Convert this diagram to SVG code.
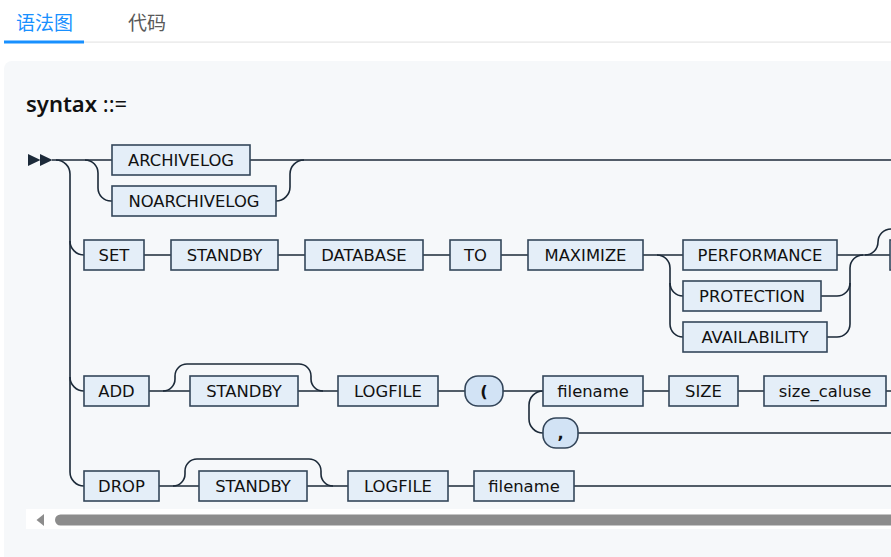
<svg xmlns="http://www.w3.org/2000/svg" width="891" height="557" viewBox="0 0 891 557">
<defs>
<style>
.bg{fill:#ffffff}
.card{fill:#f6f8fa}
.tab{font-family:"Noto Sans CJK SC","Noto Sans",sans-serif;font-size:19px}
.title{font-family:"Noto Sans","DejaVu Sans",sans-serif;font-size:22px;fill:#111}
.nt rect{fill:#e4eef8;stroke:#34465a;stroke-width:1.6}
.t rect{fill:#d2e3f5;stroke:#34465a;stroke-width:1.6}
.nt text,.t text{font-family:"DejaVu Sans",Verdana,sans-serif;font-size:16.4px;fill:#111;text-anchor:middle}
.t text{font-weight:bold}
.wire{fill:none;stroke:#1c2a39;stroke-width:1.6}
</style>
</defs>
<rect class="bg" x="0" y="0" width="891" height="557"/>
<g id="tabs">
<text class="tab" x="16" y="29.5" fill="#1890ff">语法图</text>
<text class="tab" x="128" y="29.5" fill="#595959">代码</text>
<rect x="84" y="41.5" width="807" height="1.2" fill="#e6e6e6"/>
<rect x="4" y="40.5" width="80" height="3" fill="#1890ff"/>
</g>
<rect class="card" x="4" y="61" width="900" height="520" rx="8"/>
<text class="title" x="26" y="111.5"><tspan font-weight="600">syntax</tspan> ::=</text>
<g id="start">
<path d="M28,154 L40.5,160 L28,166 Z M40,154 L52.5,160 L40,166 Z" fill="#1c2a39"/>
</g>
<g id="connectors" class="wire">
<path d="M52,160 H891"/>
<path d="M56,160 a14,14 0 0 1 14,14 V472 a14,14 0 0 0 14,14"/>
<path d="M70,241 a14,14 0 0 0 14,14"/>
<path d="M70,377 a14,14 0 0 0 14,14"/>
<path d="M85,160 a13,13 0 0 1 13,13 V188 a13,13 0 0 0 13,13 H112"/>
<path d="M276,201 a14,14 0 0 0 14,-14 V174 a14,14 0 0 1 14,-14"/>
<path d="M144,255 H171 M278,255 H305 M423,255 H450 M501,255 H528 M643,255 H683 M837,255 H891"/>
<path d="M657,255 a13,13 0 0 1 13,13 V324 a13,13 0 0 0 13,13"/>
<path d="M670,283 a13,13 0 0 0 13,13"/>
<path d="M821,296 H837 a13,13 0 0 0 13,-13"/>
<path d="M827,337 H837 a13,13 0 0 0 13,-13 V268 a13,13 0 0 1 13,-13"/>
<path d="M865,255 a13,13 0 0 0 13,-13 a13,13 0 0 1 13,-13"/>
<path d="M149,391 H190 M298,391 H338 M438,391 H465 M503,391 H543 M643,391 H669 M738,391 H764 M886,391 H891"/>
<path d="M163,391 a12,12 0 0 0 12,-12 v-3 a12,12 0 0 1 12,-12 H299 a12,12 0 0 1 12,12 v3 a12,12 0 0 0 12,12"/>
<path d="M543,391 a14,14 0 0 0 -14,14 V419 a14,14 0 0 0 14,14"/>
<path d="M578,433 H891"/>
<path d="M159,486 H199 M307,486 H348 M448,486 H474 M574,486 H891"/>
<path d="M173,486 a12,12 0 0 0 12,-12 v-3 a12,12 0 0 1 12,-12 H309 a12,12 0 0 1 12,12 v3 a12,12 0 0 0 12,12"/>
</g>
<g id="n-archivelog" class="nt"><rect x="112" y="145" width="138" height="30"/><text x="181" y="166">ARCHIVELOG</text></g>
<g id="n-noarchivelog" class="nt"><rect x="112" y="186" width="164" height="30"/><text x="194" y="207">NOARCHIVELOG</text></g>
<g id="n-set" class="nt"><rect x="84" y="240" width="60" height="30"/><text x="114" y="261">SET</text></g>
<g id="n-standby1" class="nt"><rect x="171" y="240" width="107" height="30"/><text x="224.5" y="261">STANDBY</text></g>
<g id="n-database" class="nt"><rect x="305" y="240" width="118" height="30"/><text x="364" y="261">DATABASE</text></g>
<g id="n-to" class="nt"><rect x="450" y="240" width="51" height="30"/><text x="475.5" y="261">TO</text></g>
<g id="n-maximize" class="nt"><rect x="528" y="240" width="115" height="30"/><text x="585.5" y="261">MAXIMIZE</text></g>
<g id="n-performance" class="nt"><rect x="683" y="240" width="154" height="30"/><text x="760" y="261">PERFORMANCE</text></g>
<g id="n-protection" class="nt"><rect x="683" y="281" width="138" height="30"/><text x="752" y="302">PROTECTION</text></g>
<g id="n-availability" class="nt"><rect x="683" y="322" width="144" height="30"/><text x="755" y="343">AVAILABILITY</text></g>
<g id="n-offright" class="nt"><rect x="890" y="240" width="30" height="30"/></g>
<g id="n-add" class="nt"><rect x="84" y="376" width="65" height="30"/><text x="116.5" y="397">ADD</text></g>
<g id="n-standby2" class="nt"><rect x="190" y="376" width="108" height="30"/><text x="244" y="397">STANDBY</text></g>
<g id="n-logfile1" class="nt"><rect x="338" y="376" width="100" height="30"/><text x="388" y="397">LOGFILE</text></g>
<g id="t-lparen" class="t"><rect x="465" y="376" width="38" height="30" rx="13"/><text x="484" y="397">(</text></g>
<g id="n-filename1" class="nt"><rect x="543" y="376" width="100" height="30"/><text x="593" y="397">filename</text></g>
<g id="n-size" class="nt"><rect x="669" y="376" width="69" height="30"/><text x="703.5" y="397">SIZE</text></g>
<g id="n-size-caluse" class="nt"><rect x="764" y="376" width="122" height="30"/><text x="825" y="397">size_caluse</text></g>
<g id="t-comma" class="t"><rect x="543" y="418" width="35" height="30" rx="13"/><text x="560.5" y="439">,</text></g>
<g id="n-drop" class="nt"><rect x="84" y="471" width="75" height="30"/><text x="121.5" y="492">DROP</text></g>
<g id="n-standby3" class="nt"><rect x="199" y="471" width="108" height="30"/><text x="253" y="492">STANDBY</text></g>
<g id="n-logfile2" class="nt"><rect x="348" y="471" width="100" height="30"/><text x="398" y="492">LOGFILE</text></g>
<g id="n-filename2" class="nt"><rect x="474" y="471" width="100" height="30"/><text x="524" y="492">filename</text></g>
<g id="scrollbar">
<rect x="26" y="509" width="865" height="20" fill="#ffffff"/>
<path d="M44,514 L36.5,520 L44,526 Z" fill="#8c8c8c"/>
<rect x="55" y="514.5" width="860" height="11" rx="5.5" fill="#8c8c8c"/>
</g>
</svg>
